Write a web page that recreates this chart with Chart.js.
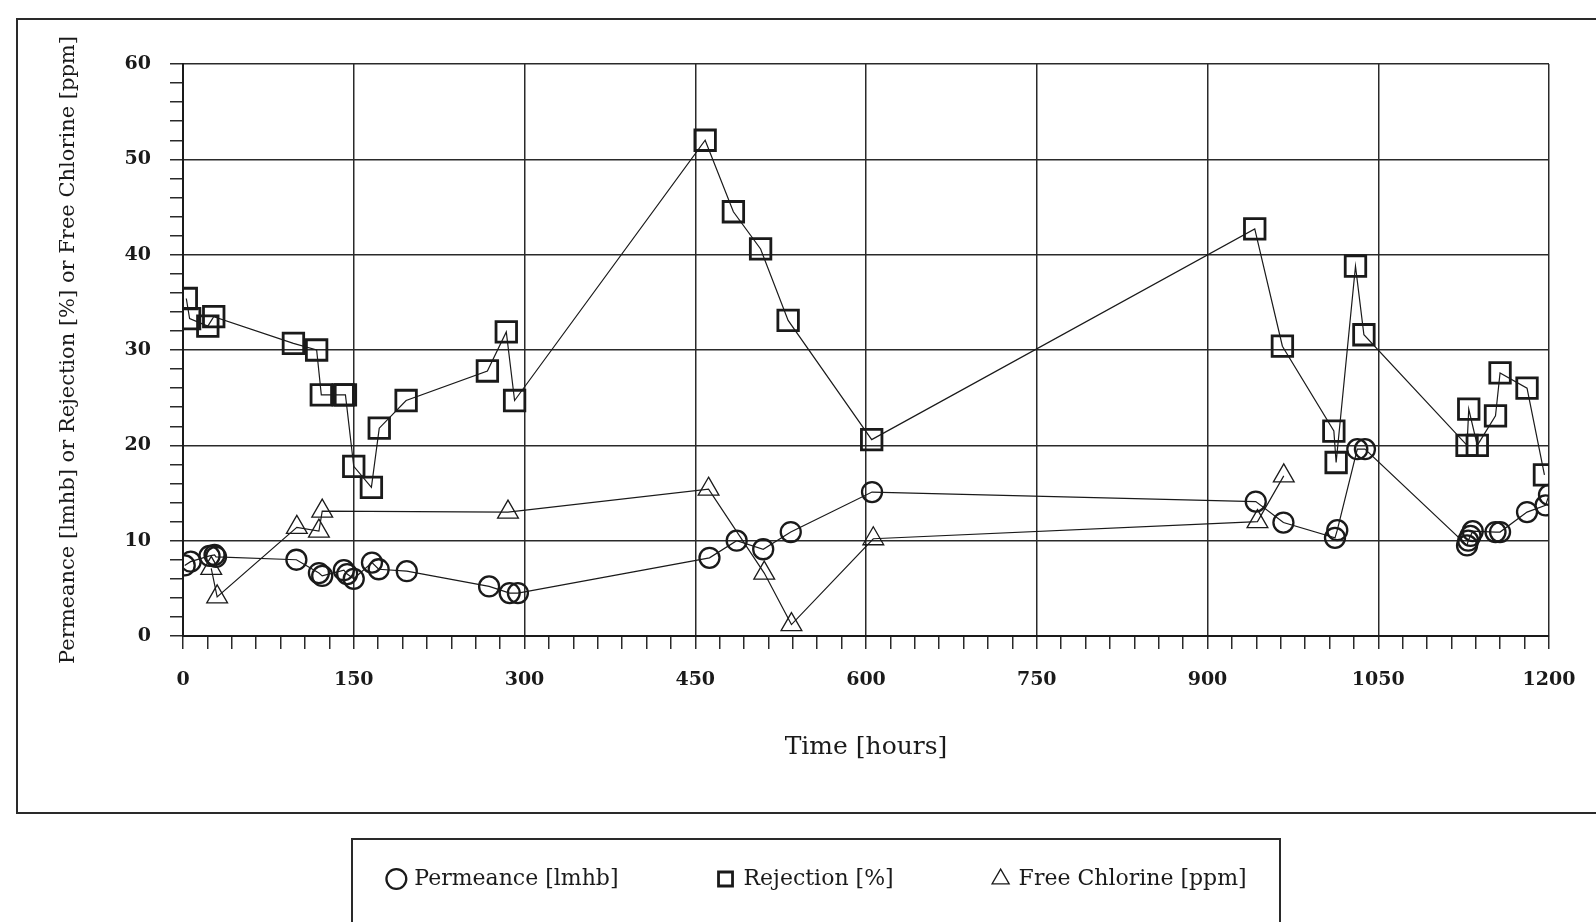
<!DOCTYPE html>
<html>
<head>
<meta charset="utf-8">
<script src="https://cdn.jsdelivr.net/npm/chart.js@4.4.1/dist/chart.umd.min.js"></script>
<style>
    body { margin: 0; background: #fff; }
    #wrap { position: relative; width: 1596px; height: 922px; overflow: hidden; }
    #chartHolder { position: absolute; left: 0; top: 0; width: 1596px; height: 922px; }
    .frame { position: absolute; border: 2px solid #2a2a2a; pointer-events: none; }
    #outerFrame { left: 16px; top: 18px; width: 1600px; height: 792px; }
    #legendFrame { left: 351px; top: 838px; width: 926px; height: 120px; }
</style>
</head>
<body>
<div id="wrap">
    <div id="chartHolder"><canvas id="chart"></canvas></div>
    <div class="frame" id="outerFrame"></div>
    <div class="frame" id="legendFrame"></div>
</div>
<script>
// Permeance [lmhb] (circles)
const permeanceHours = [1.5, 6.7, 23.3, 27.7, 29, 99.6, 119.4, 122.3, 141.3, 144.2, 150, 166, 171.9, 196.6,
    268.9, 287, 294.2, 462.5, 486.4, 509.7, 533.9, 605.3, 942.4, 966.7, 1012, 1014, 1031.6, 1038.3,
    1128, 1129, 1131, 1133, 1153, 1157, 1180.7, 1197, 1200];
const permeanceValues = [7.4, 7.8, 8.4, 8.5, 8.3, 8.0, 6.6, 6.3, 6.9, 6.5, 6.0, 7.7, 7.0, 6.8,
    5.2, 4.5, 4.5, 8.2, 10.0, 9.1, 10.9, 15.1, 14.1, 11.9, 10.3, 11.1, 19.6, 19.6,
    9.5, 10.0, 10.5, 11.0, 10.9, 10.9, 13.0, 13.7, 14.8];

// Rejection [%] (squares)
const rejectionHours = [2.9, 5.8, 21.8, 27, 97, 117.4, 121.5, 140.7, 142.7, 150, 165.5, 172.4, 196,
    267.4, 284, 291.3, 458.7, 483.5, 507.4, 531.6, 605, 941.5, 965.8, 1011, 1013, 1030, 1037.4,
    1128, 1129.5, 1137, 1153, 1157, 1180.7, 1196];
const rejectionValues = [35.4, 33.3, 32.5, 33.5, 30.7, 30.0, 25.3, 25.3, 25.3, 17.8, 15.6, 21.8, 24.7,
    27.8, 31.9, 24.7, 52.0, 44.5, 40.6, 33.1, 20.6, 42.7, 30.4, 21.5, 18.2, 38.8, 31.6,
    20.0, 23.8, 20.0, 23.1, 27.6, 26.0, 16.9];

// Free Chlorine [ppm] (triangles)
const chlorineHours = [24.8, 30, 100, 119.4, 122.3, 285.5, 461.7, 510.6, 534.5, 606.4, 943.9, 967];
const chlorineValues = [7.1, 4.1, 11.4, 11.0, 13.1, 13.0, 15.4, 6.6, 1.2, 10.2, 12.0, 16.8];

// Axis ticks
const xMajorTicks = [0, 150, 300, 450, 600, 750, 900, 1050, 1200];
const xMinorPerMajor = 7;
const yMajorStep = 10;
const yMinorStep = 2;

const fontFamily = "'DejaVu Serif', 'Liberation Serif', serif";
const ink = '#1a1a1a';


function toPoints(xs, ys) {
    return xs.map((x, i) => ({ x: x, y: ys[i] }));
}

// x axis has 7 small ticks between each labelled tick
function xTickValues() {
    const values = [];
    for (let i = 0; i < xMajorTicks.length - 1; i++) {
        const step = (xMajorTicks[i + 1] - xMajorTicks[i]) / xMinorPerMajor;
        for (let j = 0; j < xMinorPerMajor; j++) {
            values.push(xMajorTicks[i] + j * step);
        }
    }
    values.push(xMajorTicks[xMajorTicks.length - 1]);
    return values;
}

const isMajorX = v => xMajorTicks.indexOf(v) !== -1;
const isMajorY = v => Math.abs(v % yMajorStep) < 1e-9;

function series(label, xs, ys, style, radius, width) {
    return {
        label: label,
        data: toPoints(xs, ys),
        showLine: true,
        borderColor: ink,
        borderWidth: 1.2,
        backgroundColor: 'rgba(0,0,0,0)',
        pointStyle: style,
        pointRadius: radius,
        pointBorderWidth: width,
        pointBorderColor: ink,
        pointBackgroundColor: 'rgba(0,0,0,0)'
    };
}

const config = {
    type: 'scatter',
    data: {
        datasets: [
            series('Permeance [lmhb]', permeanceHours, permeanceValues, 'circle', 10, 2.3),
            series('Rejection [%]', rejectionHours, rejectionValues, 'rect', 14.5, 2.8),
            series('Free Chlorine [ppm]', chlorineHours, chlorineValues, 'triangle', 12, 1.3)
        ]
    },
    options: {
        responsive: true,
        maintainAspectRatio: false,
        animation: false,
        events: [],
        layout: {
            padding: { left: 87, right: 47, top: 64, bottom: 22 }
        },
        plugins: {
            legend: {
                position: 'bottom',
                labels: {
                    usePointStyle: true,
                    boxWidth: 14,
                    boxHeight: 14,
                    padding: 100,
                    color: ink,
                    font: { family: fontFamily, size: 22 }
                }
            },
            tooltip: { enabled: false }
        },
        scales: {
            x: {
                type: 'linear',
                min: 0,
                max: 1200,
                afterBuildTicks: axis => {
                    axis.ticks = xTickValues().map(v => ({ value: v }));
                },
                // fixed height so the legend row lands under the frame
                afterFit: scale => { scale.height = 132; },
                grid: {
                    color: ctx => isMajorX(ctx.tick.value) ? '#2a2a2a' : 'rgba(0,0,0,0)',
                    tickColor: '#2a2a2a',
                    lineWidth: 1.5,
                    tickLength: 13
                },
                border: { color: ink, width: 2 },
                ticks: {
                    autoSkip: false,
                    maxRotation: 0,
                    padding: 20,
                    color: ink,
                    font: { family: fontFamily, size: 19, weight: 'bold' },
                    callback: value => isMajorX(value) ? String(value) : ''
                },
                title: {
                    display: true,
                    text: 'Time [hours]',
                    color: ink,
                    font: { family: fontFamily, size: 25 },
                    padding: { top: 0, bottom: 6 }
                }
            },
            y: {
                min: 0,
                max: 60,
                afterFit: scale => { scale.width = 96; },
                grid: {
                    color: ctx => isMajorY(ctx.tick.value) ? '#2a2a2a' : 'rgba(0,0,0,0)',
                    tickColor: '#2a2a2a',
                    lineWidth: 1.5,
                    tickLength: 13
                },
                border: { color: ink, width: 2 },
                ticks: {
                    stepSize: yMinorStep,
                    autoSkip: false,
                    padding: 19,
                    color: ink,
                    font: { family: fontFamily, size: 19, weight: 'bold' },
                    callback: value => isMajorY(value) ? String(value) : ''
                },
                title: {
                    display: true,
                    text: 'Permeance [lmhb] or Rejection [%] or Free Chlorine [ppm]',
                    color: ink,
                    font: { family: fontFamily, size: 21 },
                    // pulls the title out to the left edge of the frame
                    padding: { top: -31, bottom: 0 }
                }
            }
        }
    }
};

const myChart = new Chart(document.getElementById('chart').getContext('2d'), config);
</script>
</body>
</html>
